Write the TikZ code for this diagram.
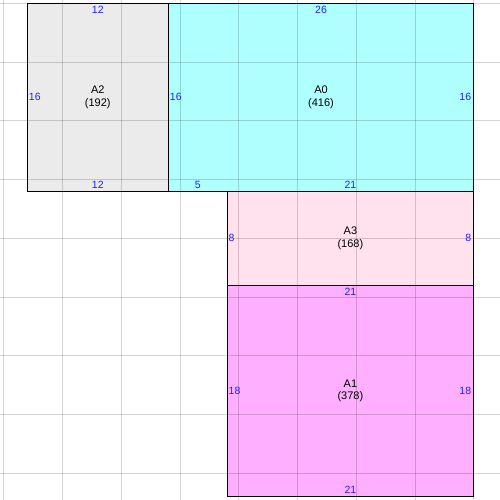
\documentclass[tikz,border=0pt]{standalone}
\usepackage{fontspec}
\setmainfont{Liberation Sans}
\definecolor{fillgray}{HTML}{EBEBEB}
\definecolor{fillcyan}{HTML}{AFFFFF}
\definecolor{fillpink}{HTML}{FFE2EE}
\definecolor{fillviolet}{HTML}{FFAFFF}
\definecolor{lenblue}{HTML}{2020FF}
\begin{document}
\begin{tikzpicture}[x=11.75pt, y=-11.75pt,
		room/.style={draw=black, line width=1pt},
		gridline/.style={black, opacity=0.17, line width=1pt},
		sidelen/.style={text=lenblue, font=\fontsize{10.5}{12}\selectfont},
		areaname/.style={align=center, font=\fontsize{11}{12.5}\selectfont}]
		\useasboundingbox (-0.323,-0.281) rectangle (42.23,42.27);
		\clip (-0.323,-0.281) rectangle (42.23,42.27);
		
		% areas
		\fill[fillgray] (2,0) rectangle (14,16);
		\fill[fillcyan] (14,0) rectangle (40,16);
		\fill[fillpink] (19,16) rectangle (40,24);
		\fill[fillviolet] (19,24) rectangle (40,42);
		
		% grid, every 5 units
		\foreach \k in {0,5,...,45} {
			\draw[gridline] (\k,-1) -- (\k,43);
			\draw[gridline] (-1,\k) -- (43,\k);
		}
		
		\draw[room] (2,0) rectangle (14,16);
		\draw[room] (14,0) rectangle (40,16);
		\draw[room] (19,16) rectangle (40,24);
		\draw[room] (19,24) rectangle (40,42);
		
		% names
		\node[areaname] (a2) at (8,8) {A2\\(192)};
		\node[areaname] (a0) at (27,8) {A0\\(416)};
		\node[areaname] (a3) at (29.5,20) {A3\\(168)};
		\node[areaname] (a1) at (29.5,33) {A1\\(378)};
		
		% side lengths
		\node[sidelen, below, inner sep=3pt] (a2top) at (8,0) {12};
		\node[sidelen, above, inner sep=3pt] (a2bot) at (8,16) {12};
		\node[sidelen, right, inner sep=1.5pt] (a2left) at (2,8) {16};
		
		\node[sidelen, below, inner sep=3pt] (a0top) at (27,0) {26};
		\node[sidelen, right, inner sep=1.5pt] (a0left) at (14,8) {16};
		\node[sidelen, left, inner sep=2.5pt] (a0right) at (40,8) {16};
		\node[sidelen, above, inner sep=3pt] (a0bot) at (16.5,16) {5};
		\node[sidelen, above, inner sep=3pt] (a0botb) at (29.5,16) {21};
		
		\node[sidelen, right, inner sep=1.5pt] (a3left) at (19,20) {8};
		\node[sidelen, left, inner sep=2.5pt] (a3right) at (40,20) {8};
		
		\node[sidelen, below, inner sep=3pt] (a1top) at (29.5,24) {21};
		\node[sidelen, right, inner sep=1.5pt] (a1left) at (19,33) {18};
		\node[sidelen, left, inner sep=2.5pt] (a1right) at (40,33) {18};
		\node[sidelen, above, inner sep=3pt] (a1bot) at (29.5,42) {21};
\end{tikzpicture}
\end{document}
